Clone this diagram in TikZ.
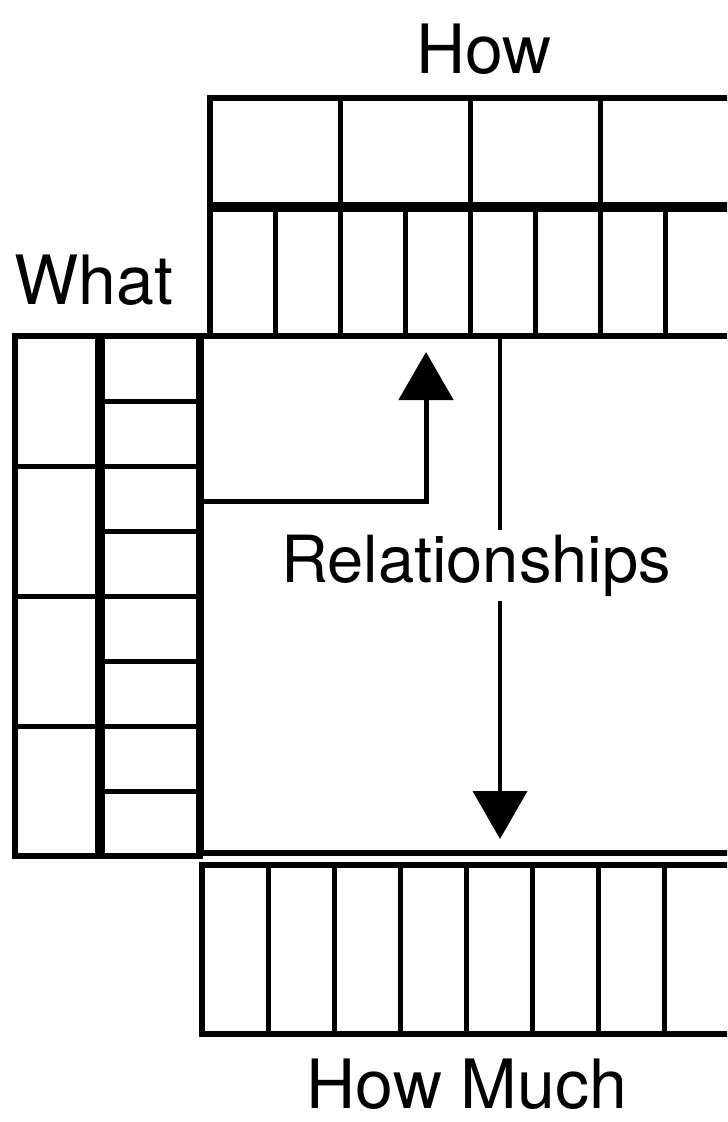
\documentclass[tikz,border=0pt]{standalone}
\usepackage{fontspec}
\setmainfont{TeX Gyre Heros}
\usetikzlibrary{arrows.meta,positioning}

\begin{document}
\begin{tikzpicture}[x=0.5pt, y=-0.5pt, >={Triangle[length=24pt,width=27pt]},
  frameline/.style={line width=3pt},
  cellline/.style={line width=2.5pt},
  heavyline/.style={line width=5pt},
  lbl/.style={font=\fontsize{34}{40}\selectfont, inner sep=0pt, anchor=base}]
  \useasboundingbox (0,0) rectangle (727,1122);
  \clip (0,0) rectangle (727,1122);
  % How
  \draw[frameline] (760,98) -- (210,98) -- (210,336);
  \draw[heavyline] (210,207) -- (760,207);
  \foreach \x in {340,470,600,730} \draw[cellline] (\x,98) -- (\x,207);
  \foreach \x in {275,340,...,730} \draw[cellline] (\x,207) -- (\x,336);
  % What
  \draw[frameline] (15,336) rectangle (200,856);
  \draw[heavyline] (100,336) -- (100,856);
  \draw[line width=4pt] (200,336) -- (200,856);
  \foreach \k in {1,2,3} \draw[cellline] (15,336+130*\k) -- (100,336+130*\k);
  \foreach \k in {1,...,7} \draw[cellline] (100,336+65*\k) -- (200,336+65*\k);
  % Relationships
  \draw[frameline] (200,336) -- (760,336);
  \draw[frameline] (200,853) -- (760,853);
  % How Much
  \draw[frameline] (760,865) -- (202,865) -- (202,1034) -- (760,1034);
  \foreach \x in {268,334,...,730} \draw[cellline] (\x,865) -- (\x,1034);
  % labels
  \node[lbl] (how) at (484,74) {How};
  \node[lbl] (what) at (94,305) {What};
  \node[lbl, font=\fontsize{32.5}{40}\selectfont, inner ysep=2pt] (rel) at (476,582) {Relationships};
  \node[lbl] (howmuch) at (467,1108) {How Much};
  % arrows
  \coordinate (whatin) at (200,501);
  \coordinate (howtip) at (426,352);
  \coordinate (reltop) at (500,336);
  \coordinate (muchtip) at (500,839);
  \draw[->, line width=2.5pt] (whatin) -| (howtip);
  \draw[line width=2pt] (reltop) -- (reltop |- rel.north);
  \draw[->, line width=2pt] (rel.south -| reltop) -- (muchtip);
\end{tikzpicture}
\end{document}
